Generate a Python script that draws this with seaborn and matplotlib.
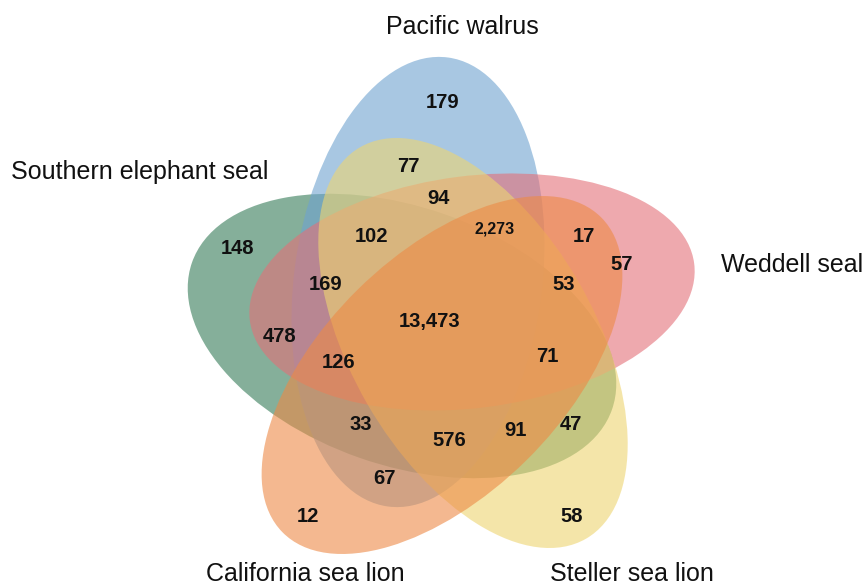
import matplotlib
matplotlib.use("Agg")
import matplotlib.pyplot as plt
from matplotlib.patches import Ellipse
import seaborn as sns

# ---- data ----
set_names = ["Pacific walrus", "Southern elephant seal", "Weddell seal",
             "California sea lion", "Steller sea lion"]
region_counts = ["179", "77", "94", "2,273", "17", "57", "148", "102", "169",
                 "478", "53", "13,473", "126", "71", "33", "576", "91", "47",
                 "67", "12", "58"]

# ---- layout (pixel coordinates, y downwards) ----
W, H = 865, 588
set_colors = ["#6EA3D0", "#347B57", "#E47078", "#ED8A46", "#EED571"]
# center x, center y, major, minor, angle (deg, counter-clockwise on screen)
ell_geom = [
    (418, 282, 453, 248, 82.4),    # Pacific walrus
    (402, 336, 445, 258, -19.3),   # Southern elephant seal
    (472, 292, 448, 232, 7.3),     # Weddell seal
    (442, 375, 448, 240, 44.6),    # California sea lion
    (473, 343, 452, 244, -60.0),   # Steller sea lion
]
draw_order = [1, 0, 2, 4, 3]
name_pos = [(462, 27), (140, 172), (792, 265), (305, 574), (632, 574)]
count_pos = [(443, 102), (408, 166), (438, 199), (495, 229), (584, 237),
             (622, 264), (238, 249), (372, 237), (326, 284), (280, 337),
             (564, 284), (430, 322), (339, 363), (547, 357), (361, 424),
             (449, 440), (515, 430), (571, 424), (384, 479), (308, 517),
             (572, 517)]

sns.set_theme(style="white")
plt.rcParams['font.family'] = ['Liberation Sans', 'DejaVu Sans']

fig = plt.figure(figsize=(W / 100, H / 100), dpi=100)
ax = fig.add_axes([0, 0, 1, 1])
ax.set_xlim(0, W)
ax.set_ylim(0, H)
ax.set_aspect("equal")
ax.axis("off")

palette = sns.color_palette(set_colors)
for i in draw_order:
    cx, cy, a, b, ang = ell_geom[i]
    ax.add_patch(Ellipse((cx, H - cy), a, b, angle=ang,
                         facecolor=palette[i], edgecolor="none", alpha=0.6))

for name, (x, y) in zip(set_names, name_pos):
    ax.text(x, H - y, name, ha="center", va="center", fontsize=18, color="#111111")

for txt, (x, y) in zip(region_counts, count_pos):
    fs = 11.5 if txt == "2,273" else 14.5
    ax.text(x, H - y, txt, ha="center", va="center", fontsize=fs,
            fontweight="bold", color="#111111")

fig.savefig("out.png", dpi=100)
